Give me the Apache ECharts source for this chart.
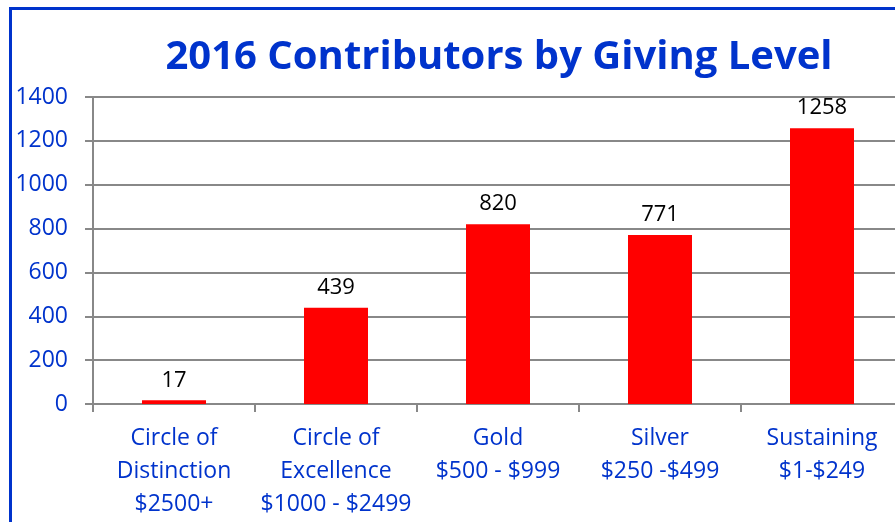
<!DOCTYPE html>
<html>
<head>
<meta charset="utf-8">
<script src="https://cdn.jsdelivr.net/npm/echarts@6/dist/echarts.min.js"></script>
<style>
  html, body { margin: 0; padding: 0; background: #fff; }
  #chart { width: 895px; height: 522px; }
</style>
</head>
<body>
<div id="chart"></div>
<script>
// giving levels and counts
var levels = [
  'Circle of\nDistinction\n$2500+',
  'Circle of\nExcellence\n$1000 - $2499',
  'Gold\n$500 - $999',
  'Silver\n$250 -$499',
  'Sustaining\n$1-$249'
];
var contributors = [17, 439, 820, 771, 1258];

var blue = '#0033cc';
var chart = echarts.init(document.getElementById('chart'));

var option = {
  backgroundColor: '#fff',
  animation: false,
  title: {
    text: '2016 Contributors by Giving Level',
    left: 494,
    top: 33,
    textAlign: 'center',
    textStyle: {
      fontFamily: 'Open Sans',
      fontWeight: 'bold',
      fontSize: 40,
      color: blue
    }
  },
  // blue frame, only left/top edges fall inside the picture
  graphic: [{
    type: 'rect',
    shape: { x: 10.5, y: 8.5, width: 1000, height: 600 },
    style: { fill: 'none', stroke: '#0033cc', lineWidth: 3 },
    silent: true
  }],
  // plot runs a little past the right edge of the picture
  grid: {
    left: 93, width: 810, top: 97, height: 307,
    containLabel: false,
    outerBoundsMode: 'none'
  },
  xAxis: {
    type: 'category',
    data: levels,
    axisLine: { lineStyle: { color: '#888', width: 2 } },
    axisTick: { show: true, length: 8, lineStyle: { color: '#888', width: 2 } },
    axisLabel: {
      interval: 0,
      margin: 18,
      color: blue,
      fontFamily: 'Open Sans',
      fontSize: 23,
      lineHeight: 33
    }
  },
  yAxis: {
    type: 'value',
    min: 0,
    max: 1400,
    interval: 200,
    axisLine: { show: true, lineStyle: { color: '#888', width: 2 } },
    axisTick: { show: true, length: 8, lineStyle: { color: '#888', width: 2 } },
    splitLine: { lineStyle: { color: '#888', width: 2 } },
    axisLabel: {
      margin: 25,
      color: blue,
      fontFamily: 'Open Sans',
      fontSize: 23,
      formatter: function (v) { return String(v); }
    }
  },
  series: [{
    type: 'bar',
    data: contributors,
    barWidth: 64,
    itemStyle: { color: '#ff0000' },
    label: {
      show: true,
      position: 'top',
      distance: 9,
      color: '#000',
      fontFamily: 'Open Sans',
      fontSize: 22
    }
  }]
};

chart.setOption(option);
</script>
</body>
</html>
